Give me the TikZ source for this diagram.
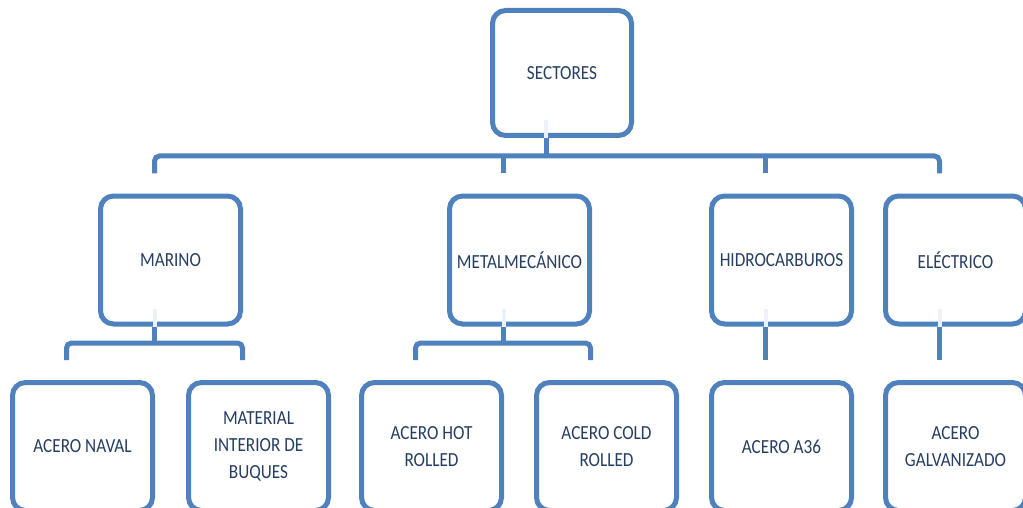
\documentclass[tikz,border=0pt]{standalone}
\usepackage{fontspec}
\setmainfont{Carlito}[FakeStretch=0.86]
\usepackage{tikz}
\usetikzlibrary{positioning}
\definecolor{boxblue}{RGB}{79,129,189}
\definecolor{txtblue}{RGB}{38,62,98}
\tikzset{font=\fontsize{20}{27}\selectfont}
\tikzset{sector/.style={draw=boxblue,line width=5pt,rounded corners=13pt,fill=white,
  minimum width=140pt,minimum height=128pt,align=center,text=txtblue,inner sep=0pt}}
\tikzset{link/.style={draw=boxblue,line width=5pt,rounded corners=5pt}}
\tikzset{ghost/.style={draw=boxblue!10,line width=4pt}}

\begin{document}
\begin{tikzpicture}[x=1pt,y=-1pt]
\useasboundingbox (0,0) rectangle (1023,508);
\clip (0,0) rectangle (1023,508);
\node[sector,minimum width=139pt,minimum height=125pt] (sectores) at (562,73) {SECTORES};
\node[sector] (marino) at (170.5,260) {MARINO};
\node[sector] (metal) at (519.5,260) {METALMECÁNICO};
\node[sector] (hidro) at (781.5,260) {HIDROCARBUROS};
\node[sector] (electrico) at (955.5,260) {ELÉCTRICO};
\node[sector] (naval) at (82.5,446.5) {ACERO NAVAL};
\node[sector] (buques) at (258.5,446.5) {MATERIAL\\INTERIOR DE\\BUQUES};
\node[sector] (hot) at (431.5,446.5) {ACERO HOT\\ROLLED};
\node[sector] (cold) at (606.5,446.5) {ACERO COLD\\ROLLED};
\node[sector] (a36) at (781.5,446.5) {ACERO A36};
\node[sector] (galv) at (955.5,446.5) {ACERO\\GALVANIZADO};
\coordinate (bar) at (0,156);
\coordinate (bar2) at (0,343);
% faint stubs inside the boxes
\foreach \p in {sectores,marino,metal,hidro,electrico}
  \draw[ghost] ([shift={(-16,2)}]\p.south) -- ++(0,-20);
% first level
\draw[link] ([xshift=-16pt]sectores.south) -- ([xshift=-16pt]sectores.south |- bar);
\draw[link] ([shift={(-16,-20)}]marino.north) |- ([xshift=-16pt]electrico.north |- bar)
  -- ([shift={(-16,-20)}]electrico.north);
\foreach \p in {metal,hidro}
  \draw[link] ([shift={(-16,-20)}]\p.north) -- ([xshift=-16pt]\p.north |- bar);
% second level
\foreach \p/\a/\b in {marino/naval/buques,metal/hot/cold}{
  \draw[link] ([xshift=-16pt]\p.south) -- ([xshift=-16pt]\p.south |- bar2);
  \draw[link] ([shift={(-16,-20)}]\a.north) |- ([xshift=-16pt]\b.north |- bar2)
    -- ([shift={(-16,-20)}]\b.north);
}
\draw[link] ([xshift=-16pt]hidro.south) -- ([shift={(-16,-20)}]a36.north);
\draw[link] ([xshift=-16pt]electrico.south) -- ([shift={(-16,-20)}]galv.north);
\end{tikzpicture}
\end{document}
